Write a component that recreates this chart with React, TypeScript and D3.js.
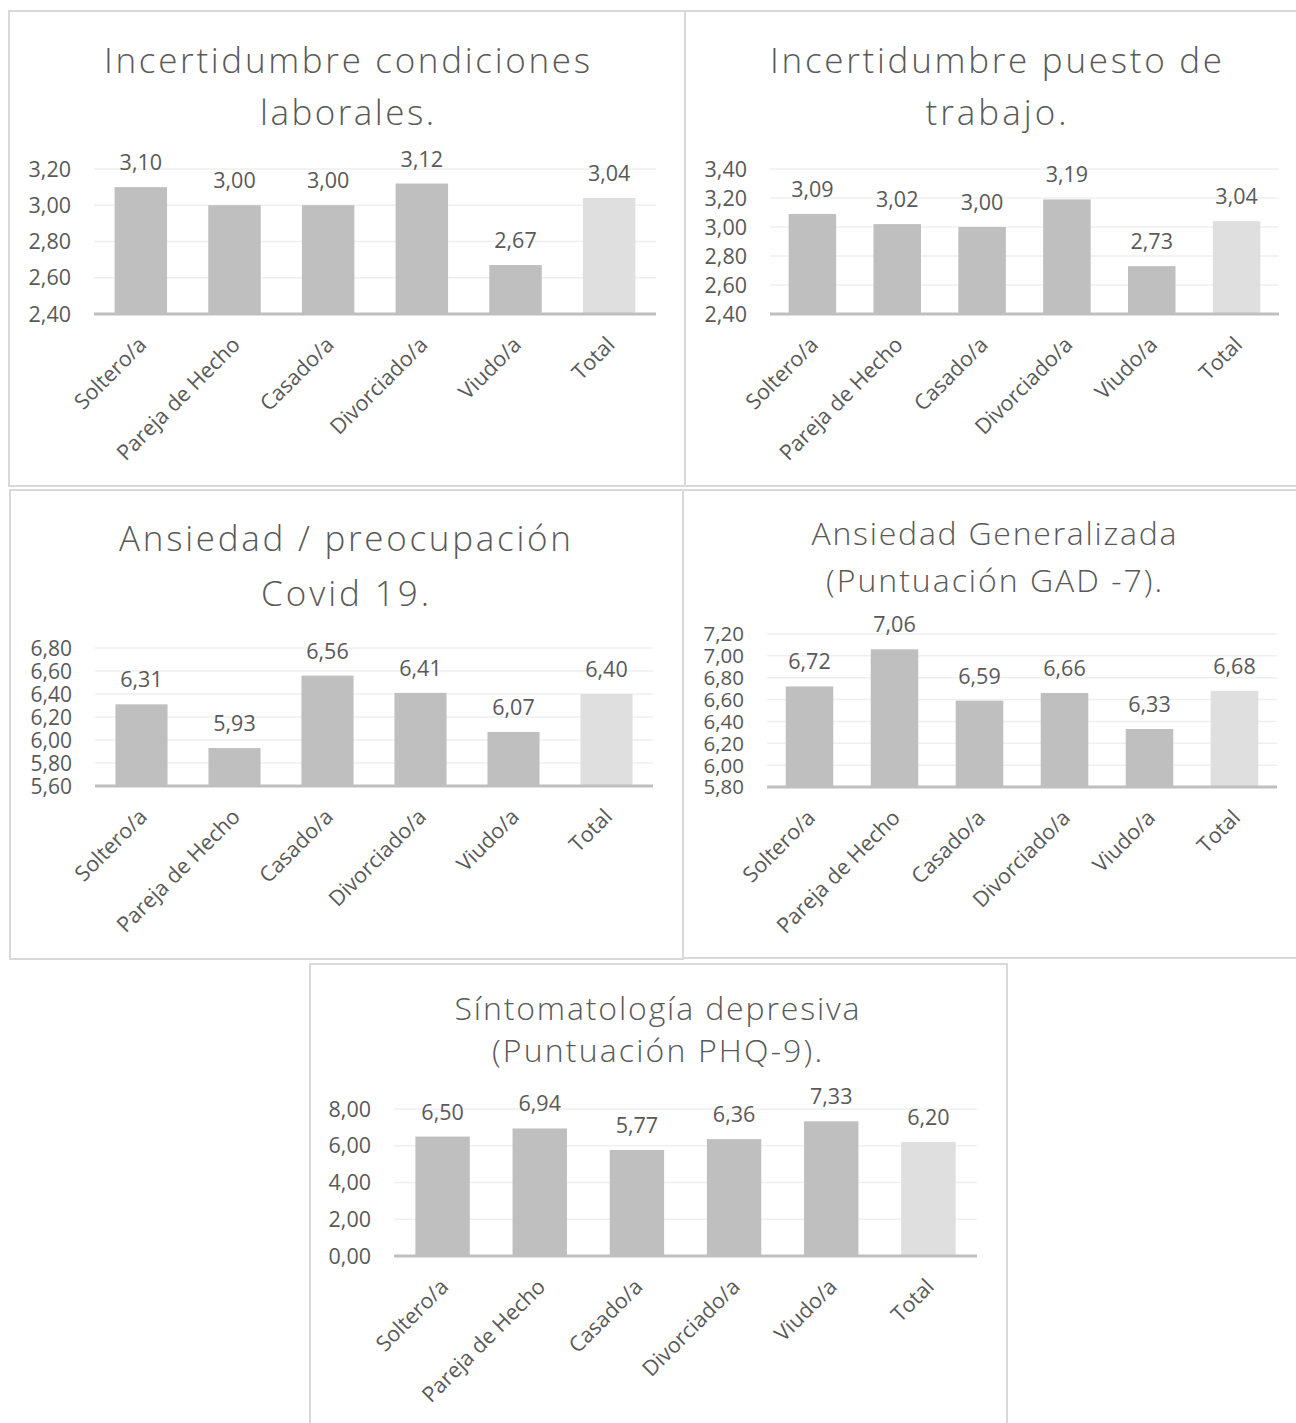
import React from "react";
import * as d3 from "d3";

const categories = ["Soltero/a", "Pareja de Hecho", "Casado/a", "Divorciado/a", "Viudo/a", "Total"];

const condicionesValues = [3.1, 3.0, 3.0, 3.12, 2.67, 3.04];
const puestoValues = [3.09, 3.02, 3.0, 3.19, 2.73, 3.04];
const covidValues = [6.31, 5.93, 6.56, 6.41, 6.07, 6.4];
const gadValues = [6.72, 7.06, 6.59, 6.66, 6.33, 6.68];
const phqValues = [6.5, 6.94, 5.77, 6.36, 7.33, 6.2];

const condicionesTicks = [2.4, 2.6, 2.8, 3.0, 3.2];
const puestoTicks = [2.4, 2.6, 2.8, 3.0, 3.2, 3.4];
const covidTicks = [5.6, 5.8, 6.0, 6.2, 6.4, 6.6, 6.8];
const gadTicks = [5.8, 6.0, 6.2, 6.4, 6.6, 6.8, 7.0, 7.2];
const phqTicks = [0, 2, 4, 6, 8];

const condicionesTitle = ["Incertidumbre condiciones", "laborales."];
const puestoTitle = ["Incertidumbre puesto de", "trabajo."];
const covidTitle = ["Ansiedad / preocupación", "Covid 19."];
const gadTitle = ["Ansiedad Generalizada", "(Puntuación GAD -7)."];
const phqTitle = ["Síntomatología depresiva", "(Puntuación PHQ-9)."];

const locale = d3.formatLocale({ decimal: ",", thousands: ".", grouping: [3], currency: ["", "€"] });
const fmt = locale.format(".2f");

const FONT = "'Open Sans', 'Noto Sans', sans-serif";
const TEXT = "#595959";

type Layout = {
  box: [number, number, number, number];
  plot: [number, number, number, number];
  titleCx: number;
  titleY: [number, number];
  titleW: [number, number];
  titleSize: number;
  tickSize: number;
};

function Panel({ values, ticks, title, layout }: { values: number[]; ticks: number[]; title: string[]; layout: Layout }) {
  const [bx, by, bw, bh] = layout.box;
  const [x0, x1, yTop, yBot] = layout.plot;
  const x = d3.scaleBand<string>().domain(categories).range([x0, x1]).paddingInner(0.44).paddingOuter(0.22);
  const y = d3.scaleLinear().domain([ticks[0], ticks[ticks.length - 1]]).range([yBot, yTop]);
  return (
    <g>
      <rect x={bx} y={by} width={bw} height={bh} fill="#fff" stroke="#D9D9D9" strokeWidth={2} />
      {title.map((t, i) => (
        <text
          key={i}
          x={layout.titleCx}
          y={layout.titleY[i]}
          textAnchor="middle"
          fontFamily={FONT}
          fontWeight={300}
          fontSize={layout.titleSize}
          fill={TEXT}
          textLength={layout.titleW[i]}
          lengthAdjust="spacing"
        >
          {t}
        </text>
      ))}
      {ticks.slice(1).map((t) => (
        <line key={t} x1={x0} x2={x1} y1={y(t)} y2={y(t)} stroke="#EFEFEF" strokeWidth={1.5} />
      ))}
      {ticks.map((t) => (
        <text key={t} x={x0 - 23} y={y(t)} dy="0.36em" textAnchor="end" fontFamily={FONT} fontSize={layout.tickSize} fill={TEXT}>
          {fmt(t)}
        </text>
      ))}
      {values.map((v, i) => {
        const c = categories[i];
        return (
          <rect
            key={c}
            x={x(c)}
            y={y(v)}
            width={x.bandwidth()}
            height={yBot - y(v)}
            fill={c === "Total" ? "#DFDFDF" : "#BFBFBF"}
          />
        );
      })}
      <line x1={x0} x2={x1} y1={yBot} y2={yBot} stroke="#BFBFBF" strokeWidth={3} />
      {values.map((v, i) => {
        const c = categories[i];
        const cx = (x(c) as number) + x.bandwidth() / 2;
        return (
          <text key={c} x={cx} y={y(v) - 17} textAnchor="middle" fontFamily={FONT} fontSize={21.5} fill={TEXT}>
            {fmt(v)}
          </text>
        );
      })}
      {categories.map((c) => {
        const cx = (x(c) as number) + x.bandwidth() / 2;
        return (
          <text
            key={c}
            transform={`translate(${cx + 7},${yBot + 32}) rotate(-45)`}
            textAnchor="end"
            fontFamily={FONT}
            fontSize={21.5}
            fill={TEXT}
          >
            {c}
          </text>
        );
      })}
    </g>
  );
}

const L1: Layout = { box: [9, 11, 676, 475], plot: [94, 656, 169, 314], titleCx: 347, titleY: [73, 125], titleW: [486, 174], titleSize: 35, tickSize: 21.5 };
const L2: Layout = { box: [685, 11, 625, 475], plot: [770, 1279, 169, 314], titleCx: 996, titleY: [73, 125], titleW: [452, 141], titleSize: 35, tickSize: 21.5 };
const L3: Layout = { box: [10, 490, 673, 469], plot: [95, 653, 648, 786], titleCx: 345, titleY: [551, 606], titleW: [452, 168], titleSize: 35, tickSize: 21 };
const L4: Layout = { box: [683, 490, 625, 468], plot: [767, 1277, 634, 787], titleCx: 994, titleY: [545, 592], titleW: [365, 336], titleSize: 32, tickSize: 20.5 };
const L5: Layout = { box: [310, 964, 697, 480], plot: [394, 977, 1109, 1256], titleCx: 657, titleY: [1020, 1062], titleW: [405, 330], titleSize: 32, tickSize: 21.5 };

export default function App() {
  return (
    <svg width={1296} height={1423} style={{ position: "absolute", left: 0, top: 0, background: "#fff" }}>
      <rect x={0} y={0} width={1296} height={1423} fill="#fff" />
      <Panel values={condicionesValues} ticks={condicionesTicks} title={condicionesTitle} layout={L1} />
      <Panel values={puestoValues} ticks={puestoTicks} title={puestoTitle} layout={L2} />
      <Panel values={covidValues} ticks={covidTicks} title={covidTitle} layout={L3} />
      <Panel values={gadValues} ticks={gadTicks} title={gadTitle} layout={L4} />
      <Panel values={phqValues} ticks={phqTicks} title={phqTitle} layout={L5} />
    </svg>
  );
}
